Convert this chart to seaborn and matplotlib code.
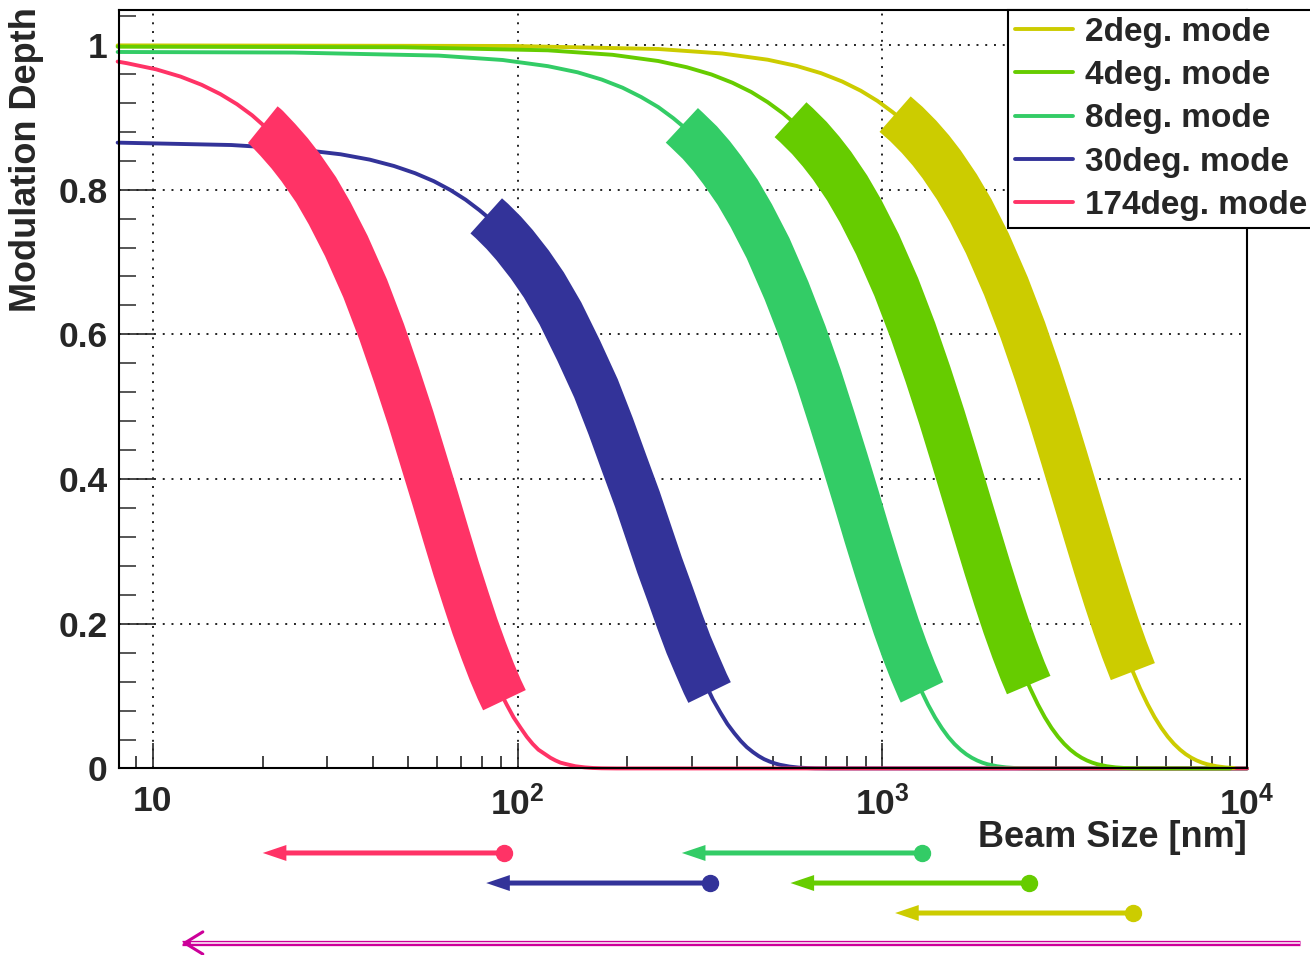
import numpy as np
import seaborn as sns
import matplotlib.pyplot as plt
from matplotlib.lines import Line2D
from matplotlib.ticker import FixedLocator, FixedFormatter, MultipleLocator, LogLocator, NullFormatter

# Values: modulation depth vs beam size [nm] for each crossing-angle mode
modes = ["2deg. mode", "4deg. mode", "8deg. mode", "30deg. mode", "174deg. mode"]

size_2deg = [8, 97.0, 243, 364, 485, 582, 679, 776, 873, 970, 1067, 1084, 1164, 1261, 1358, 1455,
             1601, 1747, 1941, 2183, 2426, 2668, 2911, 3153, 3396, 3639, 3881, 4124, 4366, 4609,
             4852, 4864, 5094, 5337, 5579, 5822, 6064, 6307, 6550, 6792, 7035, 7277, 7520, 7762,
             8248, 8733, 9218]
depth_2deg = [0.9994, 0.9986, 0.9944, 0.9882, 0.9796, 0.9710, 0.9610, 0.9495, 0.9367, 0.9226,
              0.9072, 0.9044, 0.8907, 0.8730, 0.8544, 0.8348, 0.8038, 0.7712, 0.7257, 0.6666,
              0.6062, 0.5457, 0.4865, 0.4293, 0.3751, 0.3245, 0.2779, 0.2356, 0.1978, 0.1644,
              0.1353, 0.1339, 0.1102, 0.0889, 0.0710, 0.0561, 0.0439, 0.0340, 0.0261, 0.0198,
              0.0149, 0.0111, 0.0082, 0.0060, 0.0031, 0.0015, 0.0007]

size_4deg = [8, 48.5, 121, 182, 243, 291, 340, 388, 437, 485, 534, 560, 582, 631, 679, 728, 801,
             873, 970, 1092, 1213, 1334, 1456, 1577, 1698, 1820, 1941, 2062, 2183, 2305, 2426,
             2520, 2547, 2669, 2790, 2911, 3033, 3154, 3275, 3397, 3518, 3639, 3761, 3882, 4124,
             4367, 4610, 4852, 5337, 9000]
depth_4deg = [0.9976, 0.9968, 0.9926, 0.9864, 0.9778, 0.9692, 0.9592, 0.9478, 0.9350, 0.9209,
              0.9055, 0.8967, 0.8890, 0.8714, 0.8528, 0.8332, 0.8023, 0.7698, 0.7244, 0.6654,
              0.6051, 0.5447, 0.4856, 0.4285, 0.3744, 0.3239, 0.2774, 0.2352, 0.1974, 0.1641,
              0.1350, 0.1153, 0.1100, 0.0887, 0.0708, 0.0560, 0.0438, 0.0340, 0.0261, 0.0198,
              0.0149, 0.0111, 0.0082, 0.0060, 0.0031, 0.0015, 0.0007, 0.0003, 0.0001, 0.0000]

size_8deg = [8, 24.3, 60.7, 91.0, 121, 146, 170, 194, 218, 243, 267, 282, 291, 316, 340, 364, 401,
             437, 486, 546, 607, 668, 728, 789, 850, 910, 971, 1032, 1092, 1153, 1214, 1274, 1285,
             1335, 1396, 1457, 1517, 1578, 1639, 1699, 1760, 1821, 1881, 1942, 2063, 2185, 2306,
             2428, 2670, 10000]
depth_8deg = [0.9903, 0.9895, 0.9853, 0.9792, 0.9707, 0.9622, 0.9522, 0.9409, 0.9281, 0.9141,
              0.8989, 0.8889, 0.8825, 0.8650, 0.8466, 0.8271, 0.7965, 0.7642, 0.7191, 0.6605,
              0.6006, 0.5408, 0.4820, 0.4254, 0.3717, 0.3215, 0.2753, 0.2335, 0.1960, 0.1629,
              0.1340, 0.1092, 0.1053, 0.0881, 0.0703, 0.0556, 0.0435, 0.0337, 0.0259, 0.0197,
              0.0148, 0.0110, 0.0081, 0.0059, 0.0031, 0.0015, 0.0007, 0.0003, 0.0001, 0.0000]

size_30deg = [8, 16.4, 24.5, 32.7, 39.3, 45.8, 52.3, 58.9, 65.4, 72.0, 78.5, 82.0, 85.1, 91.6,
              98.1, 108, 118, 131, 147, 164, 180, 196, 213, 229, 245, 262, 278, 294, 311, 327,
              336, 343, 360, 376, 393, 409, 425, 442, 458, 474, 491, 507, 523, 556, 589, 622,
              654, 720, 10000]
depth_30deg = [0.8650, 0.8617, 0.8563, 0.8489, 0.8415, 0.8327, 0.8228, 0.8117, 0.7995, 0.7861,
               0.7718, 0.7638, 0.7565, 0.7404, 0.7234, 0.6965, 0.6683, 0.6289, 0.5776, 0.5253,
               0.4729, 0.4215, 0.3720, 0.3250, 0.2812, 0.2408, 0.2042, 0.1714, 0.1424, 0.1172,
               0.1050, 0.0955, 0.0770, 0.0615, 0.0486, 0.0381, 0.0295, 0.0226, 0.0172, 0.0129,
               0.0096, 0.0071, 0.0052, 0.0027, 0.0013, 0.0006, 0.0003, 0.0001, 0.0000]

size_174deg = [8, 8.48, 10.2, 11.9, 13.6, 15.3, 17.0, 18.7, 20.0, 20.4, 22.0, 23.7, 25.4, 28.0,
               30.5, 33.9, 38.2, 42.4, 46.6, 50.9, 55.1, 59.4, 63.6, 67.8, 72.1, 76.3, 80.6, 84.8,
               89.0, 92.0, 93.3, 97.5, 102, 106, 110, 114, 119, 123, 127, 131, 136, 144, 153,
               161, 170, 187, 10000]
depth_174deg = [0.9770, 0.9748, 0.9663, 0.9563, 0.9449, 0.9321, 0.9181, 0.9028, 0.8898, 0.8863,
                0.8688, 0.8502, 0.8307, 0.7999, 0.7674, 0.7222, 0.6633, 0.6032, 0.5431, 0.4841,
                0.4272, 0.3733, 0.3229, 0.2765, 0.2345, 0.1968, 0.1636, 0.1346, 0.1097, 0.0944,
                0.0884, 0.0706, 0.0558, 0.0437, 0.0339, 0.0260, 0.0197, 0.0148, 0.0111, 0.0081,
                0.0060, 0.0031, 0.0015, 0.0007, 0.0003, 0.0001, 0.0000]

# measurable beam-size range of each mode [nm] (thick band + arrow below the axis)
range_lo = [1084, 560, 282, 82, 20]
range_hi = [4864, 2520, 1285, 336, 92]
full_range = [12, 13960]

x_ticks = [10, 100, 1000, 10000]
x_tick_labels = ["10", "10$^{2}$", "10$^{3}$", "10$^{4}$"]
y_ticks = [0, 0.2, 0.4, 0.6, 0.8, 1.0]
y_tick_labels = ["0", "0.2", "0.4", "0.6", "0.8", "1"]

# Styling
colors = ["#CCCC00", "#66CC00", "#33CC66", "#333399", "#FF3366"]
arrow_rows = [-0.1904, -0.1509, -0.1113, -0.1509, -0.1113]   # axes fraction below the x axis
magenta = "#CC0099"

sns.set_style("white")
plt.rcParams['font.family'] = ['Liberation Sans', 'DejaVu Sans']
plt.rcParams['font.weight'] = 'bold'
plt.rcParams['axes.labelweight'] = 'bold'
plt.rcParams['mathtext.fontset'] = 'custom'
plt.rcParams['mathtext.rm'] = 'Liberation Sans:bold'
plt.rcParams['mathtext.default'] = 'rm'

fig = plt.figure(figsize=(13.1, 9.55), dpi=100)
ax = fig.add_axes([0.09046, 0.19529, 0.86145, 0.79476])
ax.set_xscale('log')

sizes = [size_2deg, size_4deg, size_8deg, size_30deg, size_174deg]
depths = [depth_2deg, depth_4deg, depth_8deg, depth_30deg, depth_174deg]

# draw order so that the overlaps along the bottom look like the original
for i in [3, 2, 4, 0, 1]:
    s = np.array(sizes[i], dtype=float)
    d = np.array(depths[i], dtype=float)
    sns.lineplot(x=s, y=d, ax=ax, color=colors[i], linewidth=2.8,
                 estimator=None, clip_on=False)
    band = (s >= range_lo[i] * 0.999) & (s <= range_hi[i] * 1.001)
    sns.lineplot(x=s[band], y=d[band], ax=ax, color=colors[i], linewidth=34,
                 estimator=None, solid_capstyle='butt')

ax.set_xlim(8.044, 10000)
ax.set_ylim(0, 1.049)

# axes styling (ROOT-like)
for sp in ax.spines.values():
    sp.set_linewidth(1.5)
    sp.set_color('black')
ax.xaxis.set_major_locator(FixedLocator(x_ticks))
ax.xaxis.set_major_formatter(FixedFormatter(x_tick_labels))
ax.xaxis.set_minor_locator(LogLocator(base=10, subs=np.arange(2, 10)))
ax.xaxis.set_minor_formatter(NullFormatter())
ax.yaxis.set_major_locator(FixedLocator(y_ticks))
ax.yaxis.set_major_formatter(FixedFormatter(y_tick_labels))
ax.yaxis.set_minor_locator(MultipleLocator(0.04))

ax.tick_params(which='both', direction='in', bottom=True, left=True)
ax.tick_params(axis='x', which='major', length=18, width=1.2, pad=12, labelsize=25.5)
ax.tick_params(axis='x', which='minor', length=9, width=1.4, color='#444444')
ax.tick_params(axis='y', which='major', length=25, width=1.2, pad=8, labelsize=25.5)
ax.tick_params(axis='y', which='minor', length=12, width=1.4, color='#555555')
ax.grid(True, which='major', color='#222222', linestyle=(0, (1, 3.5)), linewidth=1.4)

ax.set_xlabel("Beam Size [nm]", fontsize=26, loc='right')
ax.xaxis.set_label_coords(1.0, -0.068)
ax.set_ylabel("Modulation Depth", fontsize=26, loc='top')
ax.yaxis.set_label_coords(-0.066, 1.003)

# arrows for the measurable ranges
trans = ax.get_xaxis_transform()
for i in range(len(modes)):
    yrow = arrow_rows[i]
    ax.annotate('', xy=(range_lo[i], yrow), xytext=(range_hi[i], yrow),
                xycoords=trans, textcoords=trans, annotation_clip=False,
                arrowprops=dict(arrowstyle='simple,head_length=1.7,head_width=1.15,tail_width=0.36',
                                mutation_scale=10, color=colors[i], lw=0, shrinkA=0, shrinkB=0))
    ax.plot([range_hi[i]], [yrow], 'o', ms=11.5, color=colors[i], transform=trans, clip_on=False)

# combined range: double line with open head
ym = -0.2299
ax.plot(full_range, [ym, ym], color=magenta, lw=3.8, transform=trans, clip_on=False,
        solid_capstyle='butt')
ax.plot(full_range, [ym, ym], color='white', lw=1.1, transform=trans, clip_on=False,
        solid_capstyle='butt')
ax.annotate('', xy=(full_range[0], ym), xytext=(full_range[0] * 1.05, ym),
            xycoords=trans, textcoords=trans, annotation_clip=False,
            arrowprops=dict(arrowstyle='->,head_length=1.3,head_width=0.8', mutation_scale=10,
                            color=magenta, lw=2.2, shrinkA=0, shrinkB=0))

# legend sticking out past the right edge at the top
handles = [Line2D([0], [0], color=c, lw=2.8) for c in colors]
leg = fig.legend(handles, modes, loc='upper left', bbox_to_anchor=(1008 / 1310, 1 - 10 / 955),
                 bbox_transform=fig.transFigure, frameon=True, fancybox=False, framealpha=1,
                 edgecolor='black', prop={'weight': 'bold', 'size': 24}, handlelength=1.75,
                 handletextpad=0.35, borderpad=0.2, labelspacing=0.37, borderaxespad=0)
leg.get_frame().set_linewidth(1.5)

fig.savefig("out.png", dpi=100)
